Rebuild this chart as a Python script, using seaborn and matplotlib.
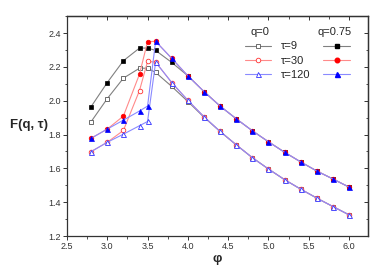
import matplotlib
matplotlib.use("Agg")
import matplotlib.pyplot as plt
from matplotlib.lines import Line2D
from matplotlib.ticker import MultipleLocator, FormatStrFormatter
import seaborn as sns
import pandas as pd

# ---- data ----
tail_x = [3.8, 4.0, 4.2, 4.4, 4.6, 4.8, 5.0, 5.2, 5.4, 5.6, 5.8, 6.0]
tail_filled = [2.25, 2.147, 2.054, 1.968, 1.893, 1.822, 1.757, 1.695, 1.638, 1.584, 1.537, 1.489]
tail_open = [2.107, 2.002, 1.905, 1.818, 1.739, 1.663, 1.596, 1.533, 1.477, 1.424, 1.374, 1.325]

# q = 0 (open markers)
x_q0_t9 = [2.8, 3.0, 3.2, 3.4, 3.5, 3.6] + tail_x
y_q0_t9 = [1.876, 2.012, 2.133, 2.192, 2.192, 2.167,
           2.084, 1.995, 1.902] + tail_open[3:]
x_q0_t30 = [2.8, 3.0, 3.2, 3.4, 3.5, 3.6] + tail_x
y_q0_t30 = [1.699, 1.754, 1.824, 2.06, 2.232, 2.228] + tail_open
x_q0_t120 = [2.8, 3.0, 3.2, 3.4, 3.5, 3.6] + tail_x
y_q0_t120 = [1.699, 1.754, 1.802, 1.852, 1.877, 2.228] + tail_open

# q = 0.75 (filled markers)
x_q75_t9 = [2.8, 3.0, 3.2, 3.4, 3.5, 3.6] + tail_x
y_q75_t9 = [1.965, 2.107, 2.236, 2.311, 2.311, 2.297,
            2.226] + tail_filled[1:]
x_q75_t30 = [2.8, 3.0, 3.2, 3.4, 3.5, 3.6] + tail_x
y_q75_t30 = [1.778, 1.832, 1.909, 2.157, 2.349, 2.351] + tail_filled
x_q75_t120 = [2.8, 3.0, 3.2, 3.4, 3.5, 3.6] + tail_x
y_q75_t120 = [1.778, 1.832, 1.885, 1.939, 1.968, 2.351] + tail_filled

tau_labels = ["τ=9", "τ=30", "τ=120"]
q_labels = ["q=0", "q=0.75"]

# ---- style ----
sns.set_style("ticks")
plt.rcParams["font.family"] = ["Liberation Sans", "DejaVu Sans"]
plt.rcParams["axes.linewidth"] = 0.9

fig = plt.figure(figsize=(3.87, 2.73), dpi=100)
ax = fig.add_axes([0.173, 0.1355, 0.778, 0.8055])

line_cols = ["#808080", "#ff8a8a", "#8a8aff"]
mark_cols = ["#000000", "#ff0000", "#0000ff"]
open_edge = ["#555555", "#ff3030", "#3030ff"]
markers = ["s", "o", "^"]
msizes = [3.0, 3.3, 3.6]

open_series = [(x_q0_t9, y_q0_t9), (x_q0_t30, y_q0_t30), (x_q0_t120, y_q0_t120)]
filled_series = [(x_q75_t9, y_q75_t9), (x_q75_t30, y_q75_t30), (x_q75_t120, y_q75_t120)]

for i, (xs, ys) in enumerate(open_series):
    df = pd.DataFrame({"phi": xs, "F": ys})
    sns.lineplot(data=df, x="phi", y="F", ax=ax, sort=False, color=line_cols[i],
                 lw=0.8, marker=markers[i], markersize=msizes[i], markerfacecolor="white",
                 markeredgecolor=open_edge[i], markeredgewidth=0.6, zorder=2 + i)
for i, (xs, ys) in enumerate(filled_series):
    df = pd.DataFrame({"phi": xs, "F": ys})
    sns.lineplot(data=df, x="phi", y="F", ax=ax, sort=False, color=line_cols[i],
                 lw=0.8, marker=markers[i], markersize=msizes[i], markerfacecolor=mark_cols[i],
                 markeredgecolor=mark_cols[i], markeredgewidth=0.5, zorder=5 + i)

ax.set_xlim(2.5, 6.235)
ax.set_ylim(1.2, 2.5)
ax.xaxis.set_major_locator(MultipleLocator(0.5))
ax.xaxis.set_minor_locator(MultipleLocator(0.25))
ax.yaxis.set_major_locator(MultipleLocator(0.2))
ax.yaxis.set_minor_locator(MultipleLocator(0.1))
ax.xaxis.set_major_formatter(FormatStrFormatter("%.1f"))
ax.yaxis.set_major_formatter(FormatStrFormatter("%.1f"))
ax.tick_params(which="both", direction="out", labelsize=6.5, colors="#333333",
               labelcolor="#333333", top=False, right=False)
ax.tick_params(which="major", length=3, width=0.7, pad=1.5)
ax.tick_params(which="minor", length=1.8, width=0.6)
for s in ax.spines.values():
    s.set_color("#333333")

# inward ticks on top/right
ax_t = ax.secondary_xaxis("top")
ax_t.xaxis.set_major_locator(MultipleLocator(0.5))
ax_t.xaxis.set_minor_locator(MultipleLocator(0.25))
ax_t.tick_params(which="both", direction="in", labeltop=False, colors="#333333")
ax_t.tick_params(which="major", length=3, width=0.7)
ax_t.tick_params(which="minor", length=1.8, width=0.6)
ax_r = ax.secondary_yaxis("right")
ax_r.yaxis.set_major_locator(MultipleLocator(0.2))
ax_r.yaxis.set_minor_locator(MultipleLocator(0.1))
ax_r.tick_params(which="both", direction="in", labelright=False, colors="#333333")
ax_r.tick_params(which="major", length=3, width=0.7)
ax_r.tick_params(which="minor", length=1.8, width=0.6)

ax.set_xlabel("φ", fontsize=9.5, fontweight="bold", labelpad=1)
ax.set_ylabel("F(q, τ)", fontsize=9.5, fontweight="bold", rotation=0,
              ha="right", va="center")
ax.yaxis.set_label_coords(-0.062, 0.505)

# ---- custom two-column legend ----
open_handles = [Line2D([], [], color=line_cols[i], lw=0.8, marker=markers[i], markersize=msizes[i],
                       markerfacecolor="white", markeredgecolor=open_edge[i],
                       markeredgewidth=0.6) for i in range(3)]
filled_handles = [Line2D([], [], color=line_cols[i], lw=0.8, marker=markers[i], markersize=msizes[i],
                         markerfacecolor=mark_cols[i], markeredgecolor=mark_cols[i])
                  for i in range(3)]
leg1 = ax.legend(open_handles, tau_labels, loc="upper left", bbox_to_anchor=(0.59, 0.885),
                 frameon=False, fontsize=8, handlelength=2.4, handletextpad=0.9,
                 labelspacing=0.4, borderpad=0, borderaxespad=0)
ax.add_artist(leg1)
leg2 = ax.legend(filled_handles, ["", "", ""], loc="upper left", bbox_to_anchor=(0.852, 0.885),
                 frameon=False, fontsize=8, handlelength=2.4, handletextpad=0,
                 labelspacing=0.4, borderpad=0, borderaxespad=0)
ax.text(0.642, 0.905, q_labels[0], transform=ax.transAxes, fontsize=8, ha="center", va="bottom")
ax.text(0.89, 0.905, q_labels[1], transform=ax.transAxes, fontsize=8, ha="center", va="bottom")

fig.savefig("out.png", dpi=100)
